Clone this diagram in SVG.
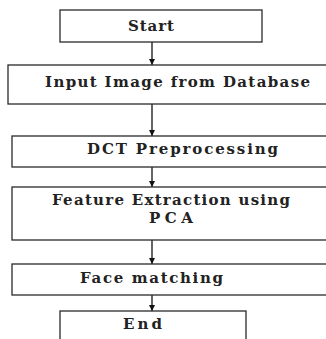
<svg xmlns="http://www.w3.org/2000/svg" width="326" height="339" viewBox="0 0 326 339">
<defs>
<style>
.box{fill:#fff;stroke:#2a2a2a;stroke-width:1.3}
.t{font-family:"DejaVu Serif","Liberation Serif",serif;font-weight:bold;font-size:15px;fill:#222}
.c{stroke:#111;stroke-width:1.3;fill:none}
</style>
<marker id="ah" viewBox="0 0 10 10" refX="10" refY="5" markerWidth="6" markerHeight="6" orient="auto" markerUnits="userSpaceOnUse">
<path d="M0,0 L10,5 L0,10 z" fill="#111"/>
</marker>
</defs>
<rect width="326" height="339" fill="#fff"/>
<g id="connectors">
<line class="c" x1="152" y1="42" x2="152" y2="65" marker-end="url(#ah)"/>
<line class="c" x1="152" y1="104" x2="152" y2="136" marker-end="url(#ah)"/>
<line class="c" x1="152" y1="167" x2="152" y2="187" marker-end="url(#ah)"/>
<line class="c" x1="152" y1="240" x2="152" y2="264" marker-end="url(#ah)"/>
<line class="c" x1="152" y1="295" x2="152" y2="311" marker-end="url(#ah)"/>
</g>
<g id="start">
<rect class="box" x="60" y="10" width="202" height="32"/>
<text class="t" x="128" y="31" font-size="14" textLength="46">Start</text>
</g>
<g id="input">
<rect class="box" x="8" y="65" width="330" height="39"/>
<text class="t" x="45" y="87" textLength="265">Input Image from Database</text>
</g>
<g id="dct">
<rect class="box" x="12" y="136" width="330" height="31"/>
<text class="t" x="87" y="154" textLength="191">DCT Preprocessing</text>
</g>
<g id="feature">
<rect class="box" x="12" y="187" width="330" height="53"/>
<text class="t" x="52" y="205" font-size="14" textLength="238">Feature Extraction using</text>
<text class="t" x="149" y="223" font-size="14" textLength="44">PCA</text>
</g>
<g id="face">
<rect class="box" x="12" y="264" width="330" height="31"/>
<text class="t" x="80" y="283" textLength="143">Face matching</text>
</g>
<g id="end">
<rect class="box" x="60" y="311" width="186" height="40"/>
<text class="t" x="123" y="329" textLength="39">End</text>
</g>
</svg>
